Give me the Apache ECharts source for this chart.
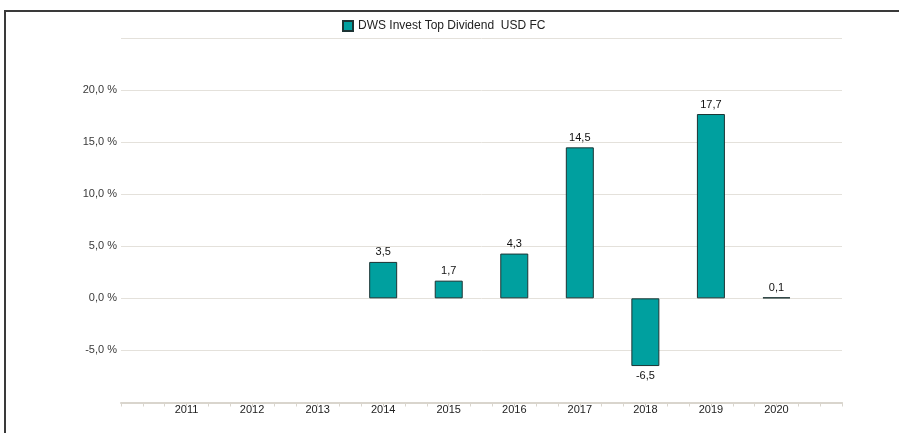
<!DOCTYPE html>
<html style="height: 100%">
<head>
    <meta charset="utf-8">
</head>
<body style="height: 100%; margin: 0; background: #fff">
    <div id="frame" style="position: absolute; left: 4px; top: 10px; right: 0; bottom: 0; border-top: 2px solid #3a3a3a; border-left: 2px solid #3a3a3a; pointer-events: none; z-index: 2"></div>
    <div id="container" style="width: 899px; height: 433px"></div>
    <script src="https://cdn.jsdelivr.net/npm/echarts@6/dist/echarts.min.js"></script>
    <script type="text/javascript">
        // Jahre (2010 und 2021 nur als Rand der Achse)
        var years = ['2010', '2011', '2012', '2013', '2014', '2015', '2016', '2017', '2018', '2019', '2020', '2021'];
        var returns = [null, null, null, null, 3.5, 1.7, 4.3, 14.5, -6.5, 17.7, 0.1, null];
        var seriesName = 'DWS Invest Top Dividend  USD FC';

        var font = 'Liberation Sans, Arial, sans-serif';
        var teal = '#00a09f';
        var axisGrey = '#d9d5cd';

        function fmt(v) {
            return v.toFixed(1).replace('.', ',');
        }

        var myChart = echarts.init(document.getElementById('container'));

        var option = {
            animation: false,
            textStyle: { fontFamily: font },
            legend: {
                data: [seriesName],
                left: 337,
                top: 15,
                itemWidth: 10,
                itemHeight: 10,
                icon: 'rect',
                textStyle: { fontSize: 12, color: '#222', fontFamily: font }
            },
            grid: {
                left: 121,
                right: 57,
                top: 38,
                bottom: 30.5
            },
            xAxis: [{
                type: 'category',
                position: 'bottom',
                data: years,
                boundaryGap: false,
                axisLine: { onZero: false, lineStyle: { color: axisGrey, width: 2 } },
                axisTick: { show: false },
                axisLabel: {
                    margin: 2,
                    fontSize: 11,
                    color: '#222',
                    interval: 0,
                    formatter: function (v, i) {
                        return (i === 0 || i === years.length - 1) ? '' : v;
                    }
                },
                splitLine: { show: false }
            }, {
                // nur fuer die kleinen Striche (drei pro Jahr)
                type: 'value',
                position: 'bottom',
                min: 0,
                max: (years.length - 1) * 3,
                interval: 1,
                axisLine: { show: false, onZero: false },
                axisTick: { show: true, length: 4, lineStyle: { color: axisGrey, width: 1 } },
                axisLabel: { show: false },
                splitLine: { show: false }
            }],
            yAxis: {
                type: 'value',
                min: -10,
                max: 25,
                interval: 5,
                axisLine: { show: false },
                axisTick: { show: false },
                axisLabel: {
                    margin: 4,
                    fontSize: 11,
                    color: '#3a3a3a',
                    formatter: function (v) {
                        if (v === 25 || v === -10) return '';
                        return fmt(v) + ' %';
                    }
                },
                splitLine: { lineStyle: { color: '#e4e1db', width: 1 } }
            },
            series: [{
                name: seriesName,
                type: 'bar',
                xAxisIndex: 0,
                barWidth: 28,
                itemStyle: { color: teal, borderColor: '#1c3434', borderWidth: 1 },
                label: {
                    show: true,
                    fontSize: 11,
                    color: '#111',
                    distance: 4,
                    formatter: function (p) { return fmt(p.value); }
                },
                data: returns.map(function (v) {
                    if (v === null) return null;
                    return { value: v, label: { position: v < 0 ? 'bottom' : 'top' } };
                })
            }]
        };

        myChart.setOption(option);
    </script>
</body>
</html>
